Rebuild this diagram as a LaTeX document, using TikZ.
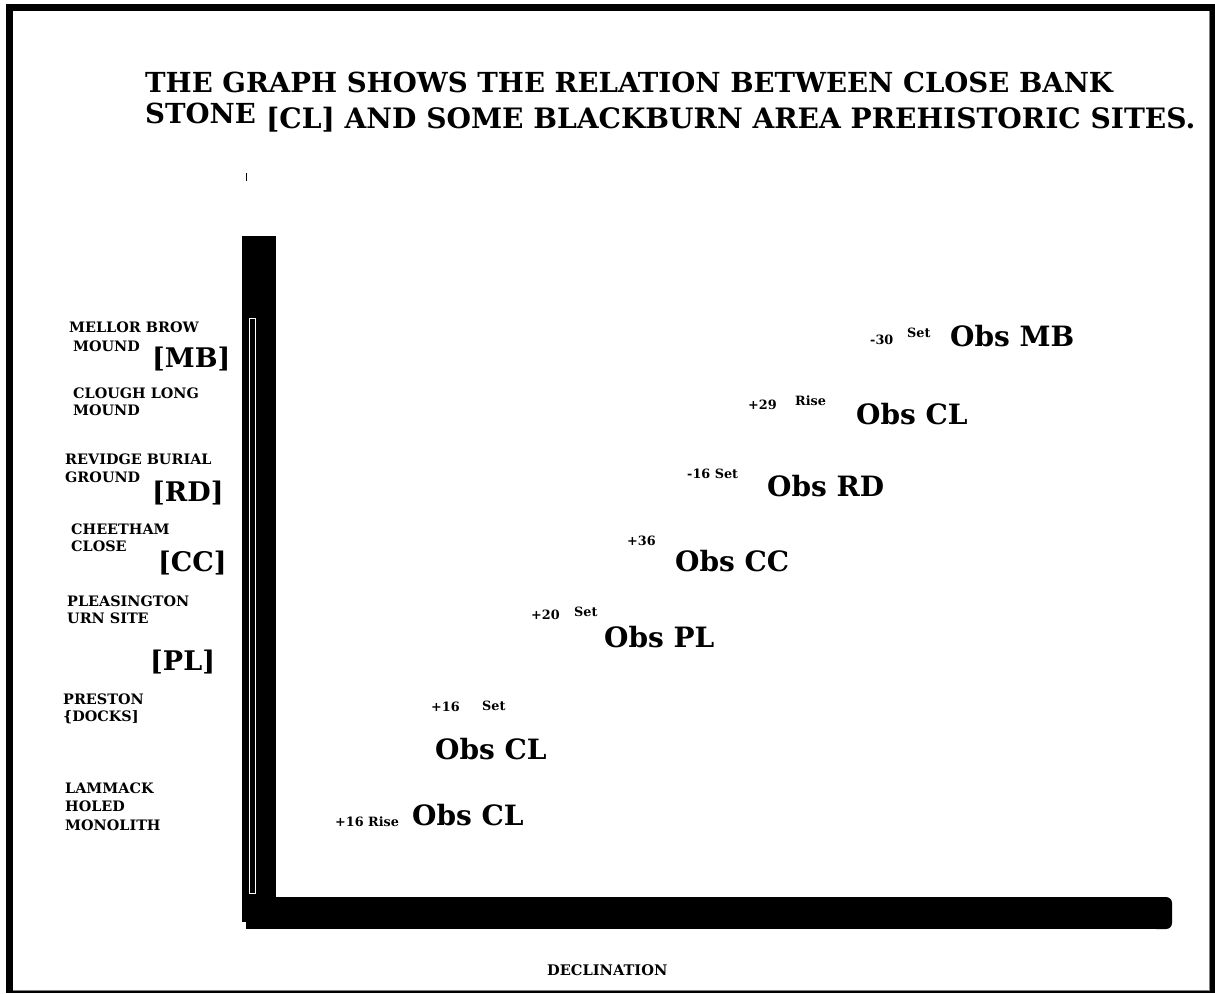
\documentclass[tikz,border=0pt]{standalone}
\usepackage{fontspec}
\setmainfont{DejaVu Serif}
\usepackage{tikz}
\usetikzlibrary{positioning}

\tikzset{
  site/.style={anchor=base west, inner sep=0pt, font=\fontsize{14.4}{15}\selectfont\bfseries},
  tag/.style={anchor=base west, inner sep=0pt, font=\fontsize{27}{28}\selectfont\bfseries},
  obs/.style={anchor=base west, inner sep=0pt, font=\fontsize{28}{29}\selectfont\bfseries},
  note/.style={anchor=base west, inner sep=0pt, font=\fontsize{12.8}{13}\selectfont\bfseries},
  headline/.style={anchor=base west, inner sep=0pt, font=\fontsize{27.6}{29}\selectfont\bfseries},
}

\begin{document}
\begin{tikzpicture}[x=1pt, y=-1pt]
  \useasboundingbox (0,0) rectangle (1215,993);

  % Frame
  \fill[black] (6,4) rectangle (1215,993);
  \fill[white] (13,11) rectangle (1209,991);
  \draw[gray, line width=1pt] (1209.5,11) -- (1209.5,990.5) -- (13,990.5);

  % Title
  \node[headline] (t1) at (145,92) {THE GRAPH SHOWS THE RELATION BETWEEN CLOSE BANK};
  \node[headline] (t2a) at (145,123) {STONE};
  \node[headline, font=\fontsize{28.1}{29}\selectfont\bfseries] (t2b) at (266,128) {[CL] AND SOME BLACKBURN AREA PREHISTORIC SITES.};

  % Axes
  \draw[line width=1pt] (246,173) -- (246,181); % small tick
  \fill[black] (242,236) rectangle (276,898); % vertical bar
  \draw[white, line width=1pt] (249.5,318) rectangle (255,893);
  \fill[black] (242,896) rectangle (247,922);
  \fill[black] (246,897) rectangle (1160,929); % horizontal bar
  \fill[black, rounded corners=6pt] (1150,897) rectangle (1172,929);
  \node[site, font=\fontsize{14.6}{15}\selectfont\bfseries] (xlab) at (547,975) {DECLINATION};

  % Sites on the vertical axis
  \node[site] (mb1) at (69,332) {MELLOR BROW};
  \node[site] (mb2) at (73,351) {MOUND};
  \node[tag]  (mb)  at (152,367) {[MB]};
  \node[site] (cl1) at (73,398) {CLOUGH LONG};
  \node[site] (cl2) at (73,415) {MOUND};
  \node[site] (rd1) at (65,464) {REVIDGE BURIAL};
  \node[site] (rd2) at (65,482) {GROUND};
  \node[tag]  (rd)  at (152,501) {[RD]};
  \node[site] (cc1) at (71,534) {CHEETHAM};
  \node[site] (cc2) at (71,551) {CLOSE};
  \node[tag]  (cc)  at (158,571) {[CC]};
  \node[site] (pl1) at (67,606) {PLEASINGTON};
  \node[site] (pl2) at (67,623) {URN SITE};
  \node[tag]  (pl)  at (150,670) {[PL]};
  \node[site] (pd1) at (63,704) {PRESTON};
  \node[site] (pd2) at (63,721) {\{DOCKS]};
  \node[site] (lm1) at (65,793) {LAMMACK};
  \node[site] (lm2) at (65,811) {HOLED};
  \node[site] (lm3) at (65,830) {MONOLITH};

  % Observations
  \node[note] (dmb) at (870,344) {-30};
  \node[note] (smb) at (907,337) {Set};
  \node[obs]  (omb) at (950,346) {Obs MB};
  \node[note] (dcl) at (748,409) {+29};
  \node[note] (scl) at (795,405) {Rise};
  \node[obs]  (ocl) at (856,424) {Obs CL};
  \node[note] (drd) at (687,478) {-16 Set};
  \node[obs]  (ord) at (767,496) {Obs RD};
  \node[note] (dcc) at (627,545) {+36};
  \node[obs]  (occ) at (675,571) {Obs CC};
  \node[note] (dpl) at (531,619) {+20};
  \node[note] (spl) at (574,616) {Set};
  \node[obs]  (opl) at (604,647) {Obs PL};
  \node[note] (dpd) at (431,711) {+16};
  \node[note] (spd) at (482,710) {Set};
  \node[obs]  (opd) at (435,759) {Obs CL};
  \node[note] (dlm) at (335,826) {+16 Rise};
  \node[obs]  (olm) at (412,825) {Obs CL};
\end{tikzpicture}
\end{document}
